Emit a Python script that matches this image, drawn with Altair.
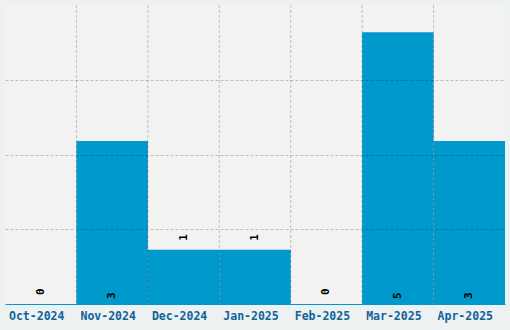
import altair as alt
import pandas as pd

months = ["Oct-2024", "Nov-2024", "Dec-2024", "Jan-2025", "Feb-2025", "Mar-2025", "Apr-2025"]
counts = [0, 3, 1, 1, 0, 5, 3]
y_grid = [1.375, 2.75, 4.125]

df = pd.DataFrame({"month": months, "count": counts})
df["big"] = df["count"] >= 2
grid_df = pd.DataFrame({"month": months[1:]})

xscale = alt.Scale(domain=months, paddingInner=0, paddingOuter=0)
yscale = alt.Scale(domain=[0, 5.5], nice=False)

FONT = "DejaVu Sans Mono"

bars = alt.Chart(df).mark_bar(color="#0099cc", opacity=1).encode(
    x=alt.X("month:N", scale=xscale, sort=months, title=None,
            axis=alt.Axis(labelAngle=0, ticks=False, grid=False, domain=True,
                          domainColor="#0099cc", domainWidth=1,
                          labelFont=FONT, labelFontWeight="bold", labelFontSize=11.5,
                          labelColor="#0f6497", labelPadding=6, labelOffset=-4)),
    y=alt.Y("count:Q", scale=yscale, title=None,
            axis=alt.Axis(values=y_grid, labels=False, ticks=False, domain=False,
                          grid=True, gridColor="#000000", gridOpacity=0.22,
                          gridDash=[3, 2], zindex=1)),
)

vgrid = alt.Chart(grid_df).mark_rule(color="#000000", opacity=0.22, strokeDash=[3, 2]).encode(
    x=alt.X("month:N", scale=xscale, sort=months, bandPosition=0),
)

labels_small = alt.Chart(df).transform_filter("!datum.big").mark_text(
    angle=270, align="left", baseline="middle", dx=9,
    font=FONT, fontWeight="bold", fontSize=11, color="#000000"
).encode(
    x=alt.X("month:N", scale=xscale, sort=months),
    y=alt.Y("count:Q", scale=yscale),
    text=alt.Text("count:Q"),
)

labels_big = alt.Chart(df).transform_filter("datum.big").mark_text(
    angle=270, align="left", baseline="middle", dx=5,
    font=FONT, fontWeight="bold", fontSize=11, color="#000000"
).encode(
    x=alt.X("month:N", scale=xscale, sort=months),
    y=alt.datum(0, scale=yscale),
    text=alt.Text("count:Q"),
)

chart = alt.layer(bars, vgrid, labels_small, labels_big).properties(
    width=500, height=299,
    background="#eef1f2",
    padding={"left": 5, "top": 5, "right": 5, "bottom": 26},
    autosize=alt.AutoSizeParams(type="none"),
).configure_view(fill="#f2f2f2", stroke=None)

chart.save("out.html", embed_options={"renderer": "svg", "actions": False})
